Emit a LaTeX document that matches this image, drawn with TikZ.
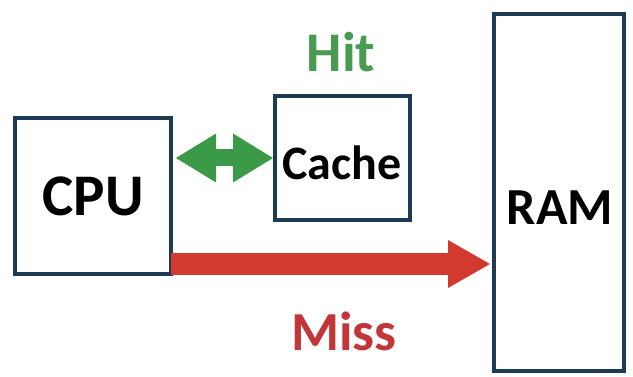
\documentclass[tikz,border=0pt]{standalone}
\usepackage{fontspec}
\setmainfont{Carlito}
\usetikzlibrary{arrows.meta}
\definecolor{boxline}{HTML}{1E3B55}
\definecolor{hitgreen}{HTML}{3A9A47}
\definecolor{hittext}{HTML}{4A9A52}
\definecolor{missred}{HTML}{D23A30}
\definecolor{misstext}{HTML}{C2363A}
\tikzset{
  unit/.style={draw=boxline, line width=4pt, fill=white, inner sep=0pt},
  lbl/.style={font=\bfseries, inner sep=0pt, anchor=center},
}
\begin{document}
\begin{tikzpicture}[x=1pt, y=-1pt]
  \useasboundingbox (0,0) rectangle (633,377);
  % memory units
  \node[unit, minimum width=156pt, minimum height=156pt] (cpu) at (93,196) {};
  \node[unit, minimum width=135pt, minimum height=124pt] (cache) at (342.5,158) {};
  \node[unit, minimum width=130pt, minimum height=357pt] (ram) at (559,192.5) {};
  % unit names
  \node[lbl, font=\bfseries\fontsize{59}{59}\selectfont] (cputext) at (93,196) {CPU};
  \node[lbl, font=\bfseries\fontsize{48}{48}\selectfont] (cachetext) at (342,163) {Cache};
  \node[lbl, font=\bfseries\fontsize{52}{52}\selectfont] (ramtext) at (560,208) {RAM};
  % access paths
  \coordinate (hitL) at ([xshift=3pt]cpu.east |- cache.center);
  \draw[hitgreen, line width=17pt,
    {Triangle[length=40pt, width=49pt, line width=0pt]}-{Triangle[length=40pt, width=49pt, line width=0pt]}]
    (hitL) -- (cache.west);
  \coordinate (missL) at (cpu.east |- 0,264);
  \coordinate (missR) at (ram.west |- 0,264);
  \draw[missred, line width=22pt, -{Triangle[length=42pt, width=48pt, line width=0pt]}]
    ([xshift=-2pt]missL) -- ([xshift=-2pt]missR);
  % outcome labels
  \node[lbl, text=hittext, font=\bfseries\fontsize{56}{56}\selectfont] (hit) at (341,52) {Hit};
  \node[lbl, text=misstext, font=\bfseries\fontsize{55}{55}\selectfont] (miss) at (344,331) {Miss};
\end{tikzpicture}
\end{document}
